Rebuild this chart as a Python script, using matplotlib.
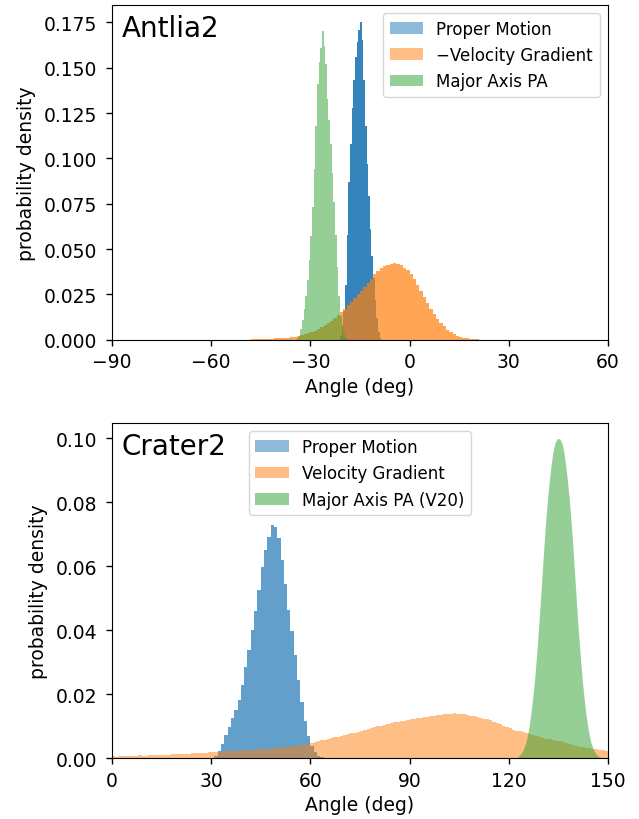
import numpy as np
import matplotlib
matplotlib.use('Agg')
import matplotlib.pyplot as plt
from matplotlib.patches import Patch

plt.rcParams['font.family'] = 'DejaVu Sans'

# ---- Antlia2 (top panel) ----
ant_pm_edges = np.arange(-21.0, -8.49, 0.5)
ant_pm = [0.002, 0.008, 0.016, 0.030, 0.058, 0.087, 0.108, 0.128, 0.143, 0.156,
          0.164, 0.171, 0.175, 0.165, 0.143, 0.118, 0.097, 0.079, 0.061, 0.046,
          0.034, 0.022, 0.012, 0.004, 0.001]

ant_vg_edges = np.arange(-48.0, 23.01, 1.0)
ant_vg = [0.0002, 0.0002, 0.0003, 0.0003, 0.0004, 0.0005, 0.0006, 0.0007, 0.0008, 0.0009,
          0.0010, 0.0012, 0.0014, 0.0017, 0.0020, 0.0024, 0.0029, 0.0035, 0.0042, 0.0050,
          0.0059, 0.0069, 0.0080, 0.0092, 0.0105, 0.0120, 0.0136, 0.0153, 0.0171, 0.0190,
          0.0210, 0.0230, 0.0250, 0.0270, 0.0290, 0.0312, 0.0335, 0.0360, 0.0380, 0.0395,
          0.0405, 0.0412, 0.0418, 0.0422, 0.0418, 0.0410, 0.0398, 0.0382, 0.0360, 0.0332,
          0.0300, 0.0268, 0.0234, 0.0200, 0.0170, 0.0142, 0.0116, 0.0093, 0.0073, 0.0056,
          0.0042, 0.0031, 0.0022, 0.0016, 0.0011, 0.0008, 0.0005, 0.0003, 0.0002, 0.0001,
          0.0001]

ant_pa_edges = np.arange(-34.0, -18.99, 0.5)
ant_pa = [0.001, 0.002, 0.006, 0.011, 0.017, 0.024, 0.033, 0.044, 0.057, 0.073,
          0.094, 0.118, 0.141, 0.153, 0.161, 0.170, 0.162, 0.152, 0.133, 0.121,
          0.108, 0.092, 0.076, 0.058, 0.040, 0.024, 0.013, 0.007, 0.003, 0.001]

# ---- Crater2 (bottom panel) ----
cra_pm_edges = np.arange(31.0, 64.01, 1.0)
cra_pm = [0.0008, 0.0022, 0.0045, 0.0072, 0.0098, 0.0125, 0.0152, 0.0183, 0.0228, 0.0285,
          0.0338, 0.0400, 0.0460, 0.0525, 0.0598, 0.0650, 0.0692, 0.0728, 0.0722, 0.0690,
          0.0620, 0.0545, 0.0465, 0.0398, 0.0322, 0.0245, 0.0175, 0.0118, 0.0070, 0.0040,
          0.0020, 0.0008, 0.0003]

cra_vg_edges = np.arange(0.0, 150.01, 1.0)
cra_vg = [0.0006, 0.0005, 0.0006, 0.0006, 0.0007, 0.0006, 0.0007, 0.0007, 0.0009, 0.0008,
          0.0008, 0.0009, 0.0010, 0.0009, 0.0010, 0.0011, 0.0010, 0.0011, 0.0012, 0.0012,
          0.0013, 0.0013, 0.0014, 0.0015, 0.0016, 0.0016, 0.0017, 0.0018, 0.0018, 0.0019,
          0.0019, 0.0020, 0.0020, 0.0021, 0.0022, 0.0022, 0.0023, 0.0023, 0.0024, 0.0025,
          0.0025, 0.0026, 0.0027, 0.0027, 0.0028, 0.0029, 0.0030, 0.0030, 0.0031, 0.0032,
          0.0033, 0.0034, 0.0035, 0.0036, 0.0037, 0.0038, 0.0040, 0.0042, 0.0044, 0.0046,
          0.0049, 0.0051, 0.0053, 0.0056, 0.0058, 0.0061, 0.0063, 0.0066, 0.0068, 0.0071,
          0.0073, 0.0076, 0.0078, 0.0080, 0.0083, 0.0085, 0.0088, 0.0091, 0.0094, 0.0097,
          0.0100, 0.0102, 0.0104, 0.0107, 0.0109, 0.0112, 0.0114, 0.0116, 0.0118, 0.0120,
          0.0122, 0.0124, 0.0125, 0.0127, 0.0128, 0.0130, 0.0131, 0.0133, 0.0134, 0.0136,
          0.0137, 0.0138, 0.0140, 0.0141, 0.0140, 0.0139, 0.0137, 0.0135, 0.0133, 0.0131,
          0.0128, 0.0125, 0.0122, 0.0124, 0.0119, 0.0114, 0.0110, 0.0106, 0.0101, 0.0098,
          0.0094, 0.0089, 0.0086, 0.0084, 0.0082, 0.0079, 0.0076, 0.0073, 0.0070, 0.0067,
          0.0064, 0.0061, 0.0059, 0.0057, 0.0055, 0.0053, 0.0051, 0.0048, 0.0045, 0.0042,
          0.0039, 0.0036, 0.0034, 0.0032, 0.0031, 0.0030, 0.0028, 0.0026, 0.0025, 0.0024]

cra_pa_edges = np.arange(122.0, 148.01, 0.5)
cra_pa = [0.0002, 0.0005, 0.0009, 0.0015, 0.0024, 0.0037, 0.0053, 0.0077, 0.0108, 0.0145,
          0.0190, 0.0240, 0.0302, 0.0370, 0.0443, 0.0522, 0.0602, 0.0682, 0.0752, 0.0815,
          0.0866, 0.0912, 0.0950, 0.0978, 0.0992, 0.0999,
          0.0999, 0.0992, 0.0978, 0.0950, 0.0912, 0.0866, 0.0815, 0.0752, 0.0682, 0.0602,
          0.0522, 0.0443, 0.0370, 0.0302, 0.0240, 0.0190, 0.0145, 0.0108, 0.0077, 0.0053,
          0.0037, 0.0024, 0.0015, 0.0009, 0.0005, 0.0002]

c_blue, c_orange, c_green = '#1f77b4', '#ff7f0e', '#2ca02c'
FS = 13.5


def centers(edges):
    return 0.5 * (edges[:-1] + edges[1:])


def style_axes(ax, name):
    ax.tick_params(labelsize=FS, length=4.3, width=1)
    ax.tick_params(axis='x', pad=4.6)
    ax.tick_params(axis='y', pad=6)
    ax.set_xlabel('Angle (deg)', fontsize=FS, labelpad=4)
    ax.set_ylabel('probability density', fontsize=FS, labelpad=6)
    ax.text(0.02, 0.972, name, transform=ax.transAxes, ha='left', va='top', fontsize=20)


fig = plt.figure(figsize=(6.39, 8.2), dpi=100)
ax1 = fig.add_axes([0.175, 0.5845, 0.7765, 0.4085])
ax2 = fig.add_axes([0.175, 0.074, 0.7765, 0.409])

handles = [Patch(facecolor=c, edgecolor='none', alpha=0.5) for c in (c_blue, c_orange, c_green)]

# top
ax1.hist(centers(ant_pm_edges), bins=ant_pm_edges, weights=ant_pm, color=c_blue, alpha=0.9)
ax1.hist(centers(ant_vg_edges), bins=ant_vg_edges, weights=ant_vg, color=c_orange, alpha=0.7)
ax1.hist(centers(ant_pa_edges), bins=ant_pa_edges, weights=ant_pa, color=c_green, alpha=0.5)
ax1.set_xlim(-90, 60)
ax1.set_ylim(0, 0.1847)
ax1.set_xticks([-90, -60, -30, 0, 30, 60])
style_axes(ax1, 'Antlia2')
ax1.legend(handles, ['Proper Motion', '\u2212Velocity Gradient', 'Major Axis PA'],
           loc='upper right', fontsize=12)

# bottom
ax2.hist(centers(cra_pm_edges), bins=cra_pm_edges, weights=cra_pm, color=c_blue, alpha=0.7)
ax2.hist(centers(cra_vg_edges), bins=cra_vg_edges, weights=cra_vg, color=c_orange, alpha=0.5)
ax2.fill_between(centers(cra_pa_edges), cra_pa, color=c_green, alpha=0.5, linewidth=0)
ax2.set_xlim(0, 150)
ax2.set_ylim(0, 0.1048)
ax2.set_xticks([0, 30, 60, 90, 120, 150])
ax2.set_yticks([0.0, 0.02, 0.04, 0.06, 0.08, 0.10])
ax2.set_yticklabels(['0.00', '0.02', '0.04', '0.06', '0.08', '0.10'])
style_axes(ax2, 'Crater2')
ax2.legend(handles, ['Proper Motion', 'Velocity Gradient', 'Major Axis PA (V20)'],
           loc='upper center', fontsize=12)

fig.savefig('out.png', dpi=100)
